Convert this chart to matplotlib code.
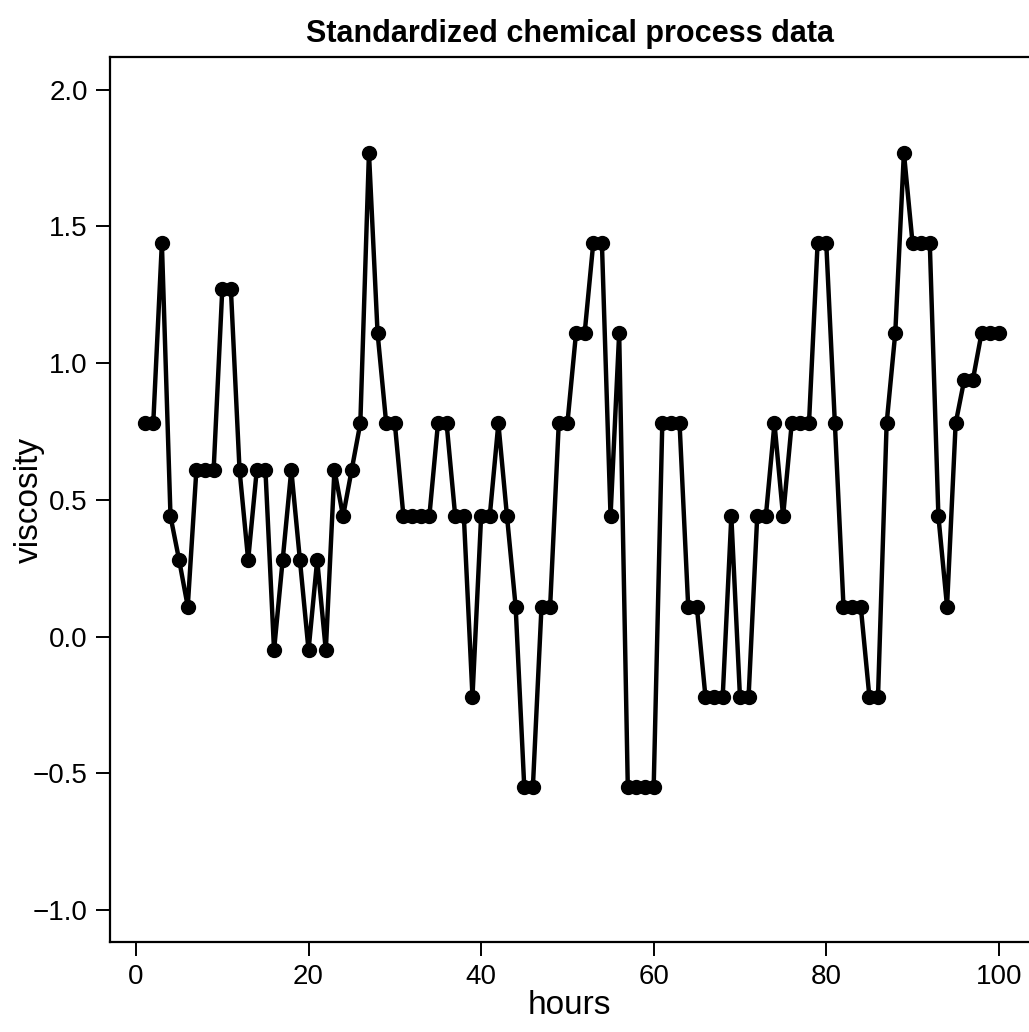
import matplotlib
matplotlib.use("Agg")
import matplotlib.pyplot as plt
import numpy as np

hours = np.arange(1, 101)
viscosity = [
    0.78, 0.78, 1.44, 0.44, 0.28, 0.11, 0.61, 0.61, 0.61, 1.27,
    1.27, 0.61, 0.28, 0.61, 0.61, -0.05, 0.28, 0.61, 0.28, -0.05,
    0.28, -0.05, 0.61, 0.44, 0.61, 0.78, 1.77, 1.11, 0.78, 0.78,
    0.44, 0.44, 0.44, 0.44, 0.78, 0.78, 0.44, 0.44, -0.22, 0.44,
    0.44, 0.78, 0.44, 0.11, -0.55, -0.55, 0.11, 0.11, 0.78, 0.78,
    1.11, 1.11, 1.44, 1.44, 0.44, 1.11, -0.55, -0.55, -0.55, -0.55,
    0.78, 0.78, 0.78, 0.11, 0.11, -0.22, -0.22, -0.22, 0.44, -0.22,
    -0.22, 0.44, 0.44, 0.78, 0.44, 0.78, 0.78, 0.78, 1.44, 1.44,
    0.78, 0.11, 0.11, 0.11, -0.22, -0.22, 0.78, 1.11, 1.77, 1.44,
    1.44, 1.44, 0.44, 0.11, 0.78, 0.94, 0.94, 1.11, 1.11, 1.11,
]
xticks = [0, 20, 40, 60, 80, 100]
yticks = [-1.0, -0.5, 0.0, 0.5, 1.0, 1.5, 2.0]

plt.rcParams['font.family'] = ['Liberation Sans', 'DejaVu Sans']

fig = plt.figure(figsize=(10.29, 10.32), dpi=100)
ax = fig.add_axes([0.107, 0.0872, 0.893, 0.8576])

ax.plot(hours, viscosity, "-", color="black", lw=3.2)
ax.plot(hours, viscosity, "o", color="black", markersize=10)

ax.set_xlim(-3.0, 103.5)
ax.set_ylim(-1.117, 2.12)
ax.set_xticks(xticks)
ax.set_yticks(yticks)
ax.set_yticklabels([f"{v:.1f}".replace("-", "\u2212") for v in yticks])

for s in ["left", "bottom", "top"]:
    ax.spines[s].set_linewidth(1.6)
ax.spines["right"].set_visible(False)
ax.tick_params(direction="out", length=10, width=1.4, labelsize=20, pad=6)

ax.set_xlabel("hours", fontsize=24, labelpad=0)
ax.set_ylabel("viscosity", fontsize=24)
ax.yaxis.set_label_coords(-0.071, 0.5)
ax.set_title("Standardized chemical process data", fontsize=22,
             fontweight="bold", pad=11)

fig.savefig("out.png", dpi=100)
